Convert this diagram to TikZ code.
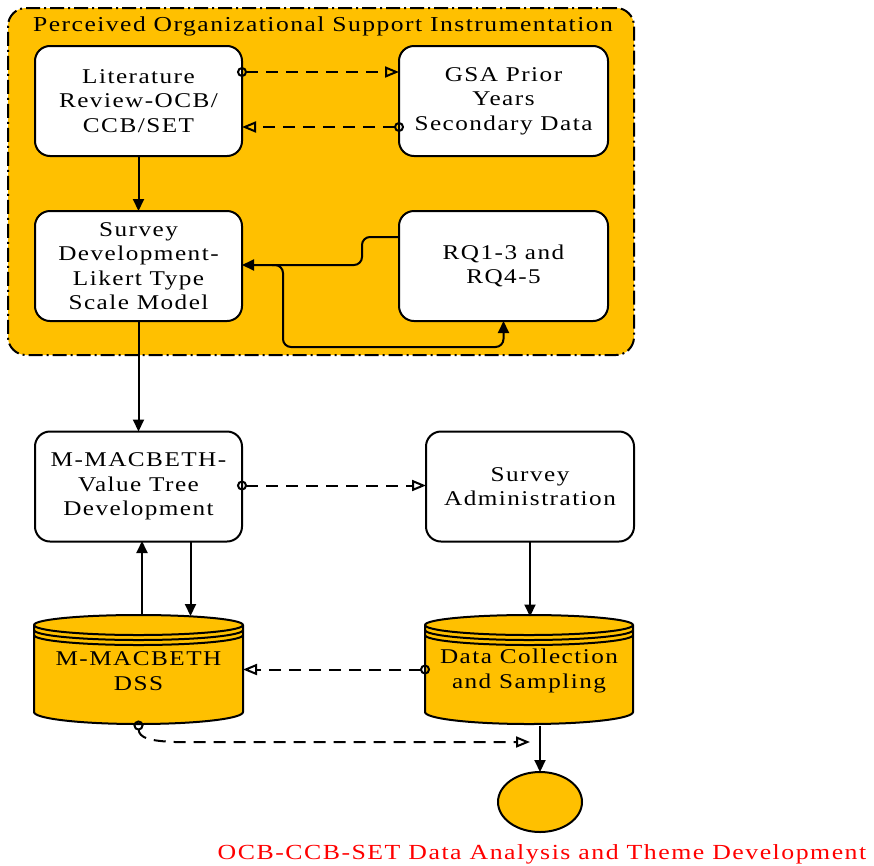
\documentclass[tikz,border=0pt]{standalone}
\usepackage{fontspec}
\setmainfont{Liberation Serif}[FakeStretch=1.2,LetterSpace=7]
\usetikzlibrary{arrows.meta,calc,shapes.geometric}
\definecolor{amber}{HTML}{FFC000}
\definecolor{inkred}{HTML}{FF0000}

% database drum: #1 left x, #2 right x, #3 top-ellipse centre y, #4 side bottom y
\newcommand\dbdrum[4]{%
  \pgfmathsetmacro\drumrx{(#2-#1)/2}%
  \filldraw[drumline,fill=amber] (#1,#3) -- (#1,#4)
    arc[start angle=180,end angle=360,x radius=\drumrx pt,y radius=12pt]
    -- (#2,#3)
    arc[start angle=0,end angle=180,x radius=\drumrx pt,y radius=10pt] -- cycle;
  \foreach \off in {0,5,10}
    \draw[drumline] (#1,#3+\off)
      arc[start angle=180,end angle=360,x radius=\drumrx pt,y radius=10pt];
}

\begin{document}
\begin{tikzpicture}[x=1pt,y=-1pt,
  every node/.style={font=\fontsize{21}{24.5}\selectfont, align=center, inner sep=0pt, outer sep=0pt},
  procbox/.style={draw, line width=2pt, fill=white, rounded corners=15pt,
                  minimum width=207pt, minimum height=110pt},
  drumline/.style={line width=2pt},
  drumtext/.style={minimum width=209pt, minimum height=109pt},
  frame/.style={draw, fill=amber, line width=2pt, rounded corners=18pt,
                dash pattern=on 14pt off 4pt on 2pt off 4pt},
  conn/.style={line width=2pt, -{Triangle[length=12pt,width=11pt]}},
  assoc/.style={line width=2pt, dash pattern=on 12pt off 8pt,
                {Circle[open,length=10pt,width=10pt]}-{Triangle[open,length=14pt,width=11pt]},
                shorten <=-5pt},
  goalshape/.style={draw, ellipse, fill=amber, line width=2pt,
                    minimum width=84pt, minimum height=60pt}
]
\useasboundingbox (0,0) rectangle (874,865);
\fill[white] (0,0) rectangle (874,865);

% instrumentation group
\node[frame, minimum width=626pt, minimum height=347pt] (grp) at (321,181.5) {};
\node[font=\fontsize{21.3}{24.5}\selectfont] (ttl) at (323,26) {Perceived Organizational Support Instrumentation};

\node[procbox] (lit)  at (138.5,101) {Literature\\Review-OCB/\\CCB/SET};
\node[procbox, minimum width=209pt] (gsa) at (503.5,101) {GSA Prior\\Years\\Secondary Data};
\node[procbox] (surv) at (138.5,266) {Survey\\Development-\\Likert Type\\Scale Model};
\node[procbox, minimum width=209pt] (rq) at (503.5,266) {RQ1-3 and\\RQ4-5};

% analysis stage
\node[procbox] (mac) at (138.5,486.5) {M-MACBETH-\\Value Tree\\Development};
\node[procbox, minimum width=208pt] (adm) at (530,486.5) {Survey\\Administration};

\dbdrum{34}{243}{625}{712}
\dbdrum{425}{633}{625}{712}
\node[drumtext] (dss) at (138.5,671) {M-MACBETH\\DSS};
\node[drumtext, minimum width=208pt] (dc) at (529,671) {Data Collection\\and Sampling};

\node[goalshape] (goal) at (540,802) {};
\node[text=inkred, font=\fontsize{21.5}{24.5}\selectfont] (cap) at (542,854)
  {OCB-CCB-SET Data Analysis and Theme Development};

% connectors
\draw[assoc] ([yshift=29pt]lit.east) -- ([yshift=29pt]gsa.west);
\draw[assoc] ([yshift=-26pt]gsa.west) -- ([yshift=-26pt]lit.east);
\draw[conn] (lit.south) -- (surv.north);

\coordinate (bendA) at (362,265);
\coordinate (branch) at (272,265);
\coordinate (loopB) at (283,347);
\draw[conn, rounded corners=8pt] ([yshift=29pt]rq.west) -| (bendA) -- (surv.east |- bendA);
\draw[conn, rounded corners=8pt] (branch) -| (loopB) -| (rq.south);

\draw[conn] (surv.south) -- (mac.north);
\draw[assoc] ([yshift=1pt]mac.east) -- ([yshift=1pt]adm.west);
\draw[conn] (142,615) -- (142,541);
\draw[conn] (190.5,541) -- (190.5,616);
\draw[conn] (adm.south) -- (adm.south |- dc.north);
\draw[assoc] ([yshift=1.5pt]dc.west) -- ([yshift=1.5pt]dss.east);

\coordinate (tipend) at (530,742);
\draw[assoc] (dss.south) .. controls (139,738) and (150,741) .. (175,742) -- (tipend);
\draw[conn] (goal.north |- dc.south) -- (goal.north);
\end{tikzpicture}
\end{document}
